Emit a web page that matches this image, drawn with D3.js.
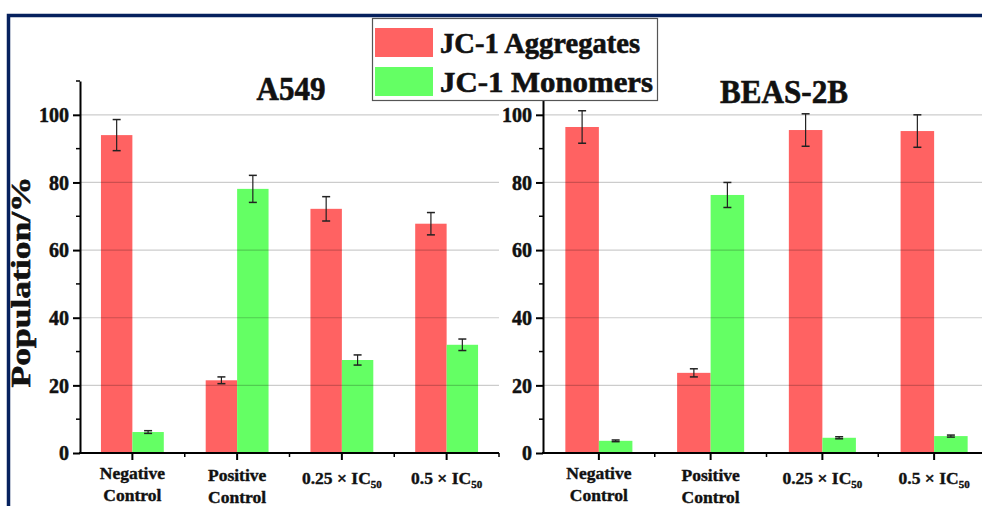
<!DOCTYPE html>
<html><head><meta charset="utf-8">
<script src="https://cdn.jsdelivr.net/npm/d3@7"></script>
<style>body{margin:0;background:#fff}svg{display:block}</style>
</head><body><svg id="c" width="982" height="506"></svg>
<script>
const categories = ["Negative Control","Positive Control","0.25 × IC50","0.5 × IC50"];
const seriesNames = ["JC-1 Aggregates","JC-1 Monomers"];
const a549Aggregates = [94, 21.5, 72.2, 67.8];
const a549AggregatesErr = [4.6, 1.0, 3.6, 3.3];
const a549Monomers = [6.2, 78.1, 27.5, 32.0];
const a549MonomersErr = [0.4, 4.0, 1.5, 1.7];
const beasAggregates = [96.4, 23.7, 95.5, 95.2];
const beasAggregatesErr = [4.8, 1.2, 4.8, 4.8];
const beasMonomers = [3.6, 76.3, 4.5, 5.0];
const beasMonomersErr = [0.25, 3.7, 0.3, 0.3];
const yTicks = [0, 20, 40, 60, 80, 100];
const yMinorTicks = [10, 30, 50, 70, 90, 110];

const colors = ["#ff6262", "#64ff64"];
const FONT = "'Liberation Serif','Times New Roman',serif";
const svg = d3.select("#c");

function heavy(sel, w) {
  return sel.attr("font-family", FONT).attr("font-weight", "bold").attr("fill", "#111")
    .attr("stroke", "#111").attr("stroke-width", w).attr("paint-order", "stroke");
}

function panel(opts) {
  const y = d3.scaleLinear().domain([0, 110]).range([453, 81]);
  const x = d3.scaleBand().domain(categories).range(opts.xr).padding(0);
  const x0 = opts.xr[0];
  const g = svg.append("g");
  const data = [
    {vals: opts.agg, err: opts.aggErr, s: 0},
    {vals: opts.mono, err: opts.monoErr, s: 1}
  ];
  const bw = x.bandwidth() * 0.3;
  data.forEach(d => {
    g.selectAll(null).data(categories).enter().append("rect")
      .attr("x", c => x(c) + x.bandwidth()/2 - bw + d.s * bw)
      .attr("width", bw)
      .attr("y", (c, i) => y(d.vals[i]))
      .attr("height", (c, i) => y(0) - y(d.vals[i]))
      .attr("fill", colors[d.s]);
  });
  // gridlines over bars
  g.selectAll(null).data(yTicks.slice(1)).enter().append("line")
    .attr("x1", x0).attr("x2", opts.xr[1])
    .attr("y1", d => y(d)).attr("y2", d => y(d))
    .attr("stroke", "rgba(0,0,0,0.2)").attr("stroke-width", 1.2);
  // error bars
  data.forEach(d => {
    categories.forEach((c, i) => {
      const cx = x(c) + x.bandwidth()/2 - bw/2 + d.s * bw;
      const t = y(d.vals[i] + d.err[i]), b = y(d.vals[i] - d.err[i]);
      g.append("line").attr("x1", cx).attr("x2", cx).attr("y1", t).attr("y2", b).attr("stroke", "#222").attr("stroke-width", 1.2);
      [t, b].forEach(v => g.append("line").attr("x1", cx - 4).attr("x2", cx + 4).attr("y1", v).attr("y2", v).attr("stroke", "#222").attr("stroke-width", 1.5));
    });
  });
  // y axis
  const ya = g.append("g").attr("transform", `translate(${x0},0)`)
    .call(d3.axisLeft(y).tickValues(yTicks).tickSize(7).tickPadding(4).tickSizeOuter(0));
  ya.attr("font-family", FONT);
  ya.select(".domain").attr("stroke", "#000").attr("stroke-width", 2);
  ya.selectAll(".tick line").attr("stroke-width", 2);
  heavy(ya.selectAll("text"), 0.5).attr("font-size", 20).attr("dy", "0.34em");
  g.selectAll(null).data(yMinorTicks).enter().append("line")
    .attr("x1", x0 - 4).attr("x2", x0).attr("y1", d => y(d)).attr("y2", d => y(d))
    .attr("stroke", "#000").attr("stroke-width", 1.5);
  // x axis
  g.append("line").attr("x1", x0 - 1).attr("x2", opts.xr[1]).attr("y1", y(0)).attr("y2", y(0)).attr("stroke", "#000").attr("stroke-width", 2);
  categories.forEach((c, i) => {
    const cx = x(c) + x.bandwidth()/2;
    g.append("line").attr("x1", cx).attr("x2", cx).attr("y1", y(0)).attr("y2", y(0) + 7).attr("stroke", "#000").attr("stroke-width", 2);
    const bx = x(c) + x.bandwidth();
    g.append("line").attr("x1", bx).attr("x2", bx).attr("y1", y(0)).attr("y2", y(0) + 4).attr("stroke", "#000").attr("stroke-width", 1.5);
  });
  // x labels
  const lab = (c, i) => {
    const cx = x(c) + x.bandwidth()/2;
    const t = heavy(g.append("text"), 0.4).attr("x", cx).attr("text-anchor", "middle").attr("font-size", 17.5);
    if (c.indexOf("IC50") >= 0) {
      t.attr("y", 484);
      t.append("tspan").text(c.replace("IC50", "IC"));
      t.append("tspan").attr("font-size", 11).attr("dy", 4).text("50");
    } else {
      const parts = c.split(" ");
      const off = i === 1 ? 2 : 0;
      t.append("tspan").attr("x", cx).attr("y", 479 + off).text(parts[0]);
      t.append("tspan").attr("x", cx).attr("y", 501 + off).text(parts[1]);
    }
  };
  categories.forEach(lab);
  // title
  heavy(svg.append("text"), 0.6).attr("x", opts.tx).attr("y", opts.ty).attr("text-anchor", "middle")
    .attr("font-size", 33)
    .attr("textLength", opts.tw).attr("lengthAdjust", "spacingAndGlyphs").text(opts.title);
}

panel({xr: [80, 499], agg: a549Aggregates, aggErr: a549AggregatesErr, mono: a549Monomers, monoErr: a549MonomersErr, title: "A549", tx: 291, ty: 100, tw: 69});
panel({xr: [543, 990], agg: beasAggregates, aggErr: beasAggregatesErr, mono: beasMonomers, monoErr: beasMonomersErr, title: "BEAS-2B", tx: 784, ty: 103, tw: 128});

// y label
heavy(svg.append("text"), 0.6).attr("transform", "translate(30,282) rotate(-90)").attr("text-anchor", "middle")
  .attr("font-size", 28)
  .attr("textLength", 211).attr("lengthAdjust", "spacingAndGlyphs").text("Population/%");

// legend
const lg = svg.append("g");
lg.append("rect").attr("x", 372.5).attr("y", 18.5).attr("width", 285).attr("height", 82)
  .attr("fill", "#fff").attr("stroke", "#555").attr("stroke-width", 1.2);
seriesNames.forEach((s, i) => {
  lg.append("rect").attr("x", 375).attr("y", 28 + i * 39).attr("width", 58).attr("height", 29).attr("fill", colors[i]);
  heavy(lg.append("text"), 0.6).attr("x", 440).attr("y", 53 + i * 39)
    .attr("font-size", 29)
    .attr("textLength", i === 0 ? 200 : 213).attr("lengthAdjust", "spacingAndGlyphs").text(s);
});

// frame
svg.append("path").attr("d", "M8.5,506V15.5H982").attr("fill", "none").attr("stroke", "#06215e").attr("stroke-width", 3.5);
</script></body></html>
